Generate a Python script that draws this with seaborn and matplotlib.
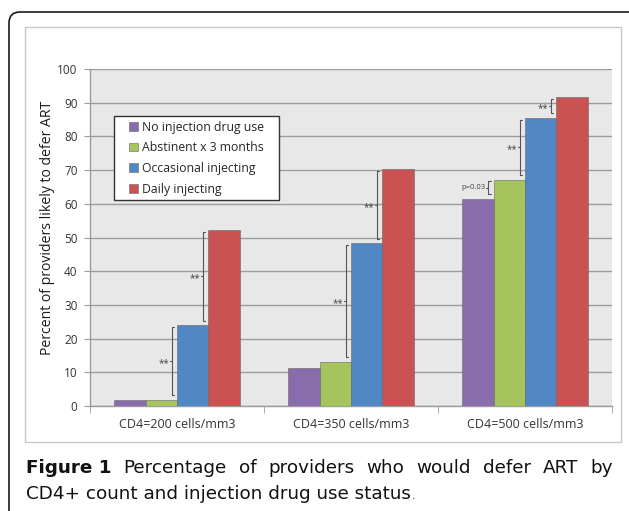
import numpy as np
import pandas as pd
import matplotlib.pyplot as plt
import seaborn as sns
from matplotlib.patches import FancyBboxPatch, Rectangle

# ------------------------------
# Data
# ------------------------------
categories = ["CD4=200 cells/mm3", "CD4=350 cells/mm3", "CD4=500 cells/mm3"]
groups = ["No injection drug use", "Abstinent x 3 months",
          "Occasional injecting", "Daily injecting"]
no_idu = [1.7, 11.4, 61.5]
abstinent = [1.9, 13.1, 67.2]
occasional = [24.0, 48.3, 85.5]
daily = [52.2, 70.3, 91.6]
colors = ["#896CAC", "#A5C45E", "#5287C6", "#CB5252"]

# significance brackets: (category, lower group, upper group, label)
comparisons = [
    (0, 1, 2, "**"), (0, 2, 3, "**"),
    (1, 1, 2, "**"), (1, 2, 3, "**"),
    (2, 0, 1, "p=0.03"), (2, 1, 2, "**"), (2, 2, 3, "**"),
]

caption_bold = "Figure 1"
caption_line1 = "Percentage of providers who would defer ART by"
caption_line2 = "CD4+ count and injection drug use status"

values = [no_idu, abstinent, occasional, daily]
df = pd.DataFrame({
    "category": np.tile(categories, len(groups)),
    "group": np.repeat(groups, len(categories)),
    "percent": np.concatenate(values),
})


def main():
    sns.set_style("white")
    plt.rcParams["font.family"] = ["Open Sans", "DejaVu Sans"]

    W, H = 629, 511
    fig = plt.figure(figsize=(W / 100, H / 100), dpi=100)

    # outer rounded frame and inner chart frame (pixel coords)
    frame = FancyBboxPatch((9, -20), 640, 20 + H - 12,
                           boxstyle="round,pad=0,rounding_size=11",
                           transform=None, fill=False, ec="#1a1a1a", lw=1.2)
    fig.patches.append(frame)
    inner = Rectangle((25, H - 442), 596, 415, transform=None,
                      fill=False, ec="#c8c8c8", lw=1.0)
    fig.patches.append(inner)

    ax = fig.add_axes([90 / W, 1 - 406 / H, 522 / W, 337 / H])
    ax.set_facecolor("#E8E8E8")

    width = 0.72
    sns.barplot(data=df, x="category", y="percent", hue="group",
                order=categories, hue_order=groups, palette=colors,
                saturation=1, width=width, ax=ax, edgecolor="#666666",
                linewidth=0.4, zorder=3)

    ax.set_ylim(0, 100)
    ax.set_xlim(-0.5, 2.5)
    ax.set_yticks(np.arange(0, 101, 10))
    ax.yaxis.grid(True, color="#9C9C9C", lw=1.0, zorder=0)
    ax.set_axisbelow(True)
    for s in ["top", "right"]:
        ax.spines[s].set_visible(False)
    for s in ["left", "bottom"]:
        ax.spines[s].set_color("#9C9C9C")
        ax.spines[s].set_linewidth(1.0)

    ax.set_xlabel("")
    ylab = ax.set_ylabel("Percent of providers likely to defer ART",
                         fontsize=8.6, color="#1a1a1a")
    ax.yaxis.set_label_coords(-0.068, 0.53)
    ax.tick_params(axis="y", length=4, color="#9C9C9C", pad=5,
                   labelsize=8.5, labelcolor="#333333", left=True)
    ax.tick_params(axis="x", which="major", length=0, pad=9,
                   labelsize=9, labelcolor="#333333")
    ax.set_xticks([-0.5, 0.5, 1.5, 2.5], minor=True)
    ax.tick_params(axis="x", which="minor", length=5, color="#9C9C9C",
                   bottom=True)

    # legend: white box drawn separately, entries laid over it
    box = Rectangle((0.046, 0.611), 0.316, 0.25, transform=ax.transAxes,
                    facecolor="white", edgecolor="#333333", lw=1.0,
                    zorder=5)
    ax.add_patch(box)
    leg = ax.legend(loc="upper left", bbox_to_anchor=(0.0745, 0.847),
                    fontsize=8.8, frameon=False, handlelength=0.75,
                    handleheight=0.75, handletextpad=0.3,
                    labelspacing=0.63, borderpad=0, borderaxespad=0)
    leg.set_zorder(6)

    # significance brackets
    step = width / len(groups)
    for cat, lo, hi, label in comparisons:
        boundary = cat - width / 2 + step * (lo + 1)
        x = boundary - 0.03
        y0 = values[lo][cat] + 1.3
        y1 = values[hi][cat] - 0.5
        ym = (y0 + y1) / 2
        t = 0.012
        ax.plot([x + t, x, x, x + t], [y0, y0, y1, y1], color="#555555",
                lw=0.8, zorder=4)
        ax.plot([x, x - t], [ym, ym], color="#555555", lw=0.8, zorder=4)
        fs = 5.5 if label.startswith("p") else 7
        ax.text(x - t - 0.003, ym - (0.8 if label == "**" else 0), label,
                ha="right", va="center", fontsize=fs, color="#444444",
                zorder=4)

    fig.canvas.draw()
    renderer = fig.canvas.get_renderer()

    # y label spans about 251 px in the reference
    span = ylab.get_window_extent(renderer).height
    ylab.set_fontsize(8.6 * 251 / span)

    # caption, first line justified across the width
    cap_font = ["DejaVu Sans"]
    cap_size = 13.2
    left_px, right_px = 26, 613
    y1_px, y2_px = H - 473, H - 499
    words = [(caption_bold, "bold")] + [(w, "normal") for w in caption_line1.split()]
    texts = []
    for w, weight in words:
        t = fig.text(0, y1_px / H, w, fontsize=cap_size, fontweight=weight,
                     family=cap_font, color="#111111", va="baseline",
                     ha="left")
        texts.append(t)
    widths = [t.get_window_extent(renderer).width for t in texts]
    gap = (right_px - left_px - sum(widths)) / (len(texts) - 1)
    x = left_px
    for t, wd in zip(texts, widths):
        t.set_x(x / W)
        x += wd + gap
    t2 = fig.text(left_px / W, y2_px / H, caption_line2, fontsize=cap_size,
                  family=cap_font, color="#111111", va="baseline", ha="left")
    wd2 = t2.get_window_extent(renderer).width
    fig.text((left_px + wd2 + 1) / W, y2_px / H, ".", fontsize=8,
             family=cap_font, color="#111111", va="baseline", ha="left")

    fig.savefig("out.png", dpi=100)
    plt.close(fig)


if __name__ == "__main__":
    main()
